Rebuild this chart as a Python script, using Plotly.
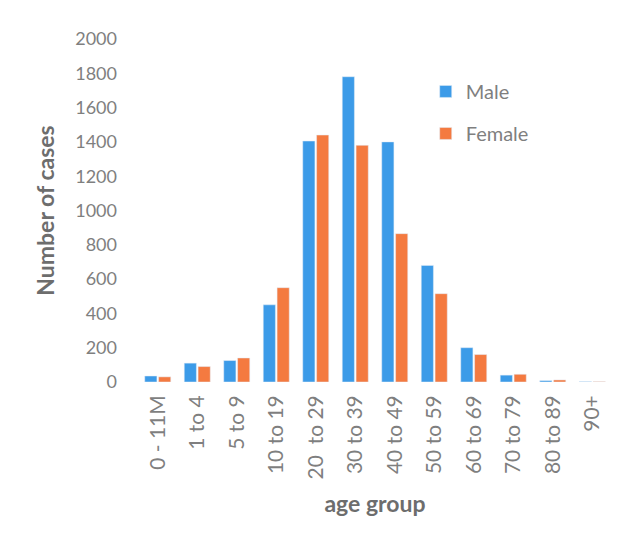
import plotly.graph_objects as go

categories = ["0 - 11M", "1 to 4", "5 to 9", "10 to 19", "20  to 29", "30 to 39",
              "40 to 49", "50 to 59", "60 to 69", "70 to 79", "80 to 89", "90+"]
male = [35, 110, 125, 450, 1405, 1780, 1400, 680, 200, 40, 8, 2]
female = [30, 90, 140, 550, 1440, 1380, 865, 515, 160, 45, 12, 2]

font_family = "Lato, 'Open Sans', sans-serif"
grey = "#7f7f7f"

fig = go.Figure()
fig.add_trace(go.Bar(name="Male", x=categories, y=male, marker_color="#3C9BE8",
                     legendgroup="m"))
fig.add_trace(go.Bar(name="Female", x=categories, y=female, marker_color="#F47A40",
                     legendgroup="f"))

fig.update_layout(
    width=641, height=536,
    margin=dict(l=130, r=37, t=31, b=162),
    plot_bgcolor="white", paper_bgcolor="white",
    barmode="group", bargap=0.3, bargroupgap=0.12,
    font=dict(family=font_family, color=grey, size=18),
    legend=dict(x=0.607, y=0.904, xanchor="left", yanchor="top",
                font=dict(size=20, color=grey), tracegroupgap=13,
                itemwidth=30,
                bgcolor="rgba(0,0,0,0)"),
    xaxis=dict(title=dict(text="<b>age group</b>", font=dict(size=23, color="#6d6d6d"),
                          standoff=17),
               tickangle=-90, showgrid=False, showline=False, ticks="",
               ticklabelstandoff=8,
               tickfont=dict(size=21, color=grey)),
    yaxis=dict(title=dict(text="<b>Number of cases</b>", font=dict(size=23, color="#6d6d6d"),
                          standoff=14),
               range=[0, 2000], dtick=200, showgrid=False, showline=False,
               zeroline=False, ticks="", ticklabelstandoff=20,
               tickfont=dict(size=18, color=grey)),
)

fig.write_html("out.html")
